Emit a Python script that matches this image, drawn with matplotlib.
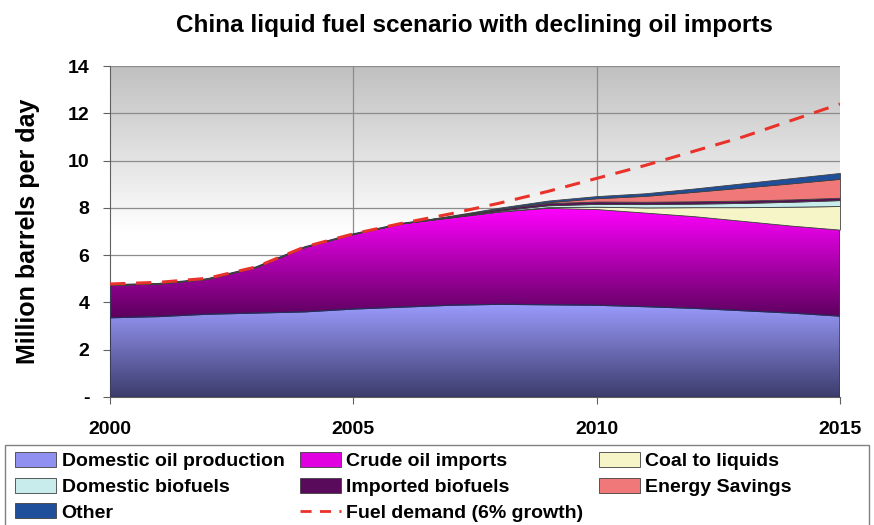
import numpy as np
import matplotlib.pyplot as plt
from matplotlib.patches import Patch, Rectangle
from matplotlib.lines import Line2D
from matplotlib.colors import LinearSegmentedColormap

plt.rcParams['font.family'] = ['Liberation Sans', 'DejaVu Sans']
plt.rcParams['font.weight'] = 'bold'

years = np.arange(2000, 2016)

# million barrels per day, stacked from the bottom up
domestic_oil = [3.35, 3.40, 3.50, 3.55, 3.60, 3.72, 3.80, 3.88,
                3.92, 3.90, 3.88, 3.82, 3.75, 3.65, 3.55, 3.42]
crude_imports = [1.40, 1.40, 1.50, 1.95, 2.75, 3.18, 3.55, 3.72,
                 3.93, 4.10, 4.07, 3.98, 3.90, 3.80, 3.70, 3.66]
coal_to_liquids = [0, 0, 0, 0, 0, 0, 0, 0,
                   0, 0.03, 0.10, 0.22, 0.38, 0.58, 0.80, 1.00]
domestic_biofuels = [0, 0, 0, 0, 0, 0, 0, 0,
                     0.04, 0.08, 0.12, 0.14, 0.15, 0.18, 0.21, 0.25]
imported_biofuels = [0, 0, 0, 0, 0, 0, 0, 0.04,
                     0.07, 0.09, 0.10, 0.10, 0.10, 0.10, 0.10, 0.10]
energy_savings = [0, 0, 0, 0, 0, 0, 0, 0,
                  0, 0.04, 0.14, 0.25, 0.40, 0.55, 0.68, 0.80]
other = [0, 0, 0, 0, 0, 0, 0, 0.03,
         0.05, 0.07, 0.09, 0.11, 0.14, 0.18, 0.22, 0.25]
fuel_demand = [4.78, 4.85, 5.02, 5.50, 6.35, 6.90, 7.35, 7.75,
               8.20, 8.70, 9.25, 9.80, 10.40, 11.00, 11.70, 12.40]

labels = ['Domestic oil production', 'Crude oil imports', 'Coal to liquids',
          'Domestic biofuels', 'Imported biofuels', 'Energy Savings', 'Other']
series = [domestic_oil, crude_imports, coal_to_liquids, domestic_biofuels,
          imported_biofuels, energy_savings, other]
flat_colors = ['#f5f5c8', '#c8ecec', '#5a0a5a', '#f07878', '#1f4e9a']
legend_colors = ['#9090f0', '#e000e0'] + flat_colors
# vertical gradients (top colour, bottom colour) for the two big bands
gradients = [('#9c9cff', '#3c3c6c'), ('#ff00ff', '#5a005a')]

fig = plt.figure(figsize=(8.74, 5.25), dpi=100)
ax = fig.add_axes([0.126, 0.244, 0.835, 0.630])
ax.set_xlim(2000, 2015)
ax.set_ylim(0, 14)

# grey-to-white plot background
bg = LinearSegmentedColormap.from_list('bg', ['#ffffff', '#ffffff', '#c0c0c0'])
ax.imshow(np.linspace(0, 1, 256).reshape(-1, 1), cmap=bg, origin='lower',
          extent=[2000, 2015, 0, 14], aspect='auto', zorder=0)

ax.yaxis.grid(True, color='#8c8c8c', linewidth=0.9, zorder=1)
for yr in (2005, 2010):
    ax.axvline(yr, color='#8c8c8c', linewidth=0.9, zorder=1)

base = np.zeros(len(years))
for i, vals in enumerate(series):
    top = base + np.array(vals)
    if i < 2:
        poly = ax.fill_between(years, base, top, facecolor='none',
                               edgecolor='#2a2a5a', linewidth=0.8, zorder=3)
        cmap = LinearSegmentedColormap.from_list('g%d' % i, [gradients[i][1], gradients[i][0]])
        lo, hi = (0, 4.0) if i == 0 else (3.3, 8.0)
        img = ax.imshow(np.linspace(0, 1, 256).reshape(-1, 1), cmap=cmap,
                        origin='lower', extent=[2000, 2015, lo, hi],
                        aspect='auto', zorder=2)
        img.set_clip_path(poly.get_paths()[0], transform=ax.transData)
    else:
        ax.fill_between(years, base, top, facecolor=flat_colors[i - 2],
                        edgecolor='#404040', linewidth=0.6, zorder=3)
    base = top

ax.plot(years, fuel_demand, color='#e8322a', linestyle=(0, (5, 3.5)),
        linewidth=2.2, zorder=4)
ax.set_xlim(2000, 2015)
ax.set_ylim(0, 14)

ax.set_xticks([2000, 2005, 2010, 2015])
ax.set_yticks(range(0, 15, 2))
ax.set_yticklabels(['-'] + [str(v) for v in range(2, 15, 2)])
ax.tick_params(labelsize=14, length=5, color='#606060')
ax.tick_params(axis='y', pad=10)
ax.tick_params(axis='x', pad=12)
for lab in ax.get_xticklabels() + ax.get_yticklabels():
    lab.set_fontweight('bold')
for side in ('top', 'right'):
    ax.spines[side].set_visible(False)
for side in ('left', 'bottom'):
    ax.spines[side].set_color('#606060')

ax.set_ylabel('Million barrels per day', fontsize=18, fontweight='bold', labelpad=20)
fig.text(0.543, 0.952, 'China liquid fuel scenario with declining oil imports',
         ha='center', va='center', fontsize=17.5, fontweight='bold')

# legend box runs off the bottom edge
fig.patches.append(Rectangle((0.006, -0.02), 0.988, 0.172, transform=fig.transFigure,
                             facecolor='white', edgecolor='#808080', linewidth=1.0,
                             zorder=0))

handles = [Patch(facecolor=c, edgecolor='#404040', linewidth=0.6) for c in legend_colors]
demand = Line2D([], [], color='#e8322a', linestyle=(0, (4, 3)), linewidth=2)
order = [0, 3, 6, 1, 4, None, 2, 5]
hs = [handles[k] if k is not None else demand for k in order]
ls = [labels[k] if k is not None else 'Fuel demand (6% growth)' for k in order]
leg = fig.legend(hs, ls, loc='upper left', ncol=3, frameon=False,
                 bbox_to_anchor=(0.013, 0.146),
                 prop={'size': 14, 'weight': 'bold'},
                 handlelength=2.1, handleheight=0.8,
                 labelspacing=0.38, borderpad=0.2, handletextpad=0.28,
                 columnspacing=0.8, borderaxespad=0)

fig.savefig('out.png', dpi=100)
